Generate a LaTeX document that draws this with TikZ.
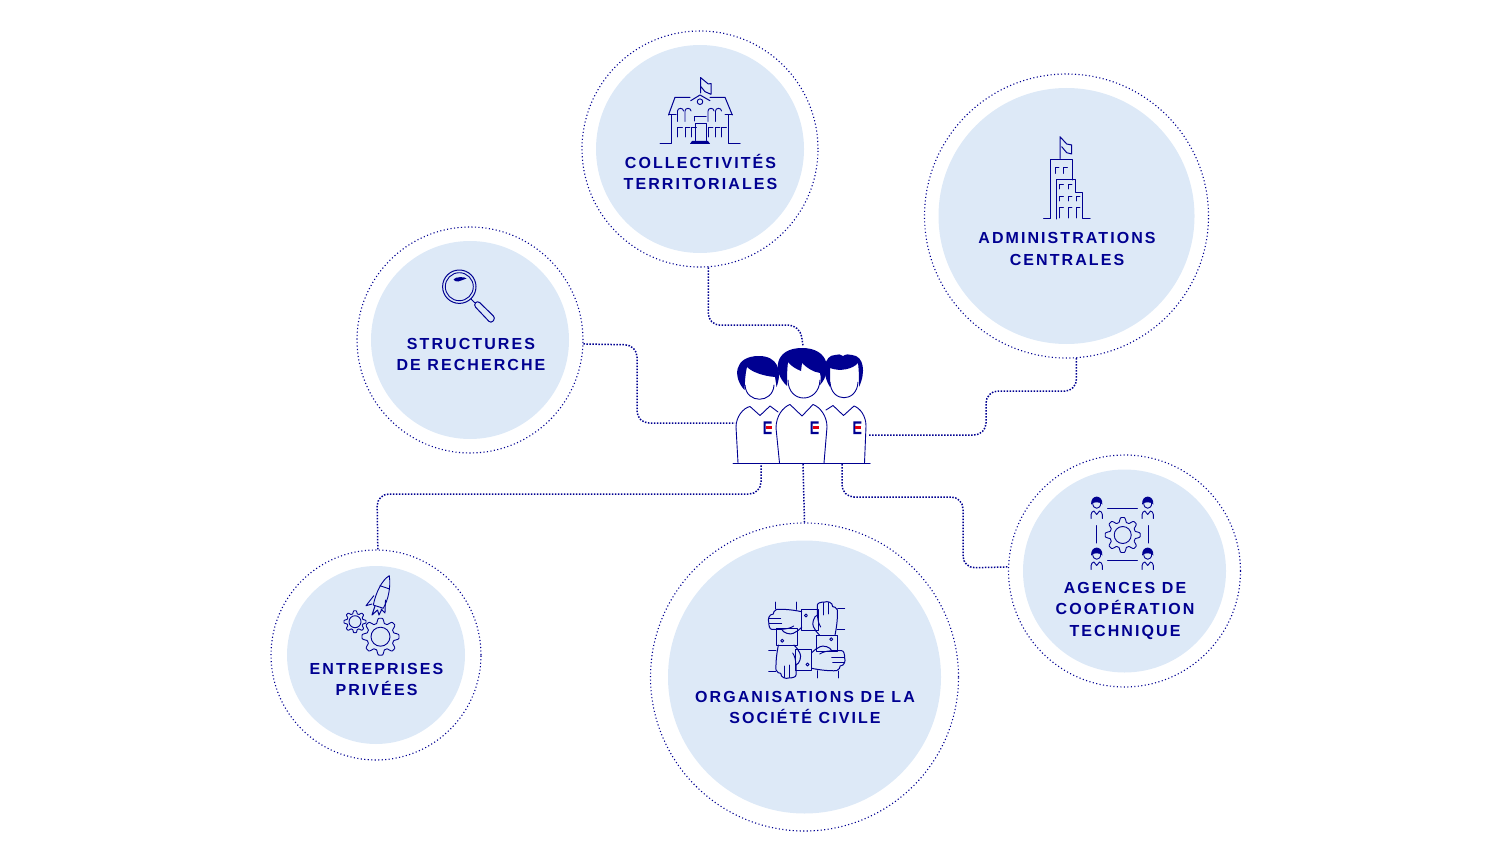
\documentclass[tikz,border=0pt]{standalone}
\usepackage{fontspec}
\usepackage{xcolor}
\usetikzlibrary{positioning,calc}
\newfontfamily\labelfont[LetterSpace=13]{Liberation Sans}
\definecolor{inkblue}{HTML}{000091}
\definecolor{discblue}{HTML}{DDE9F7}
\definecolor{logored}{HTML}{E1000F}
\tikzset{ring/.style={circle, inner sep=0pt, draw=inkblue, line width=1.1pt, dash pattern=on 1.1pt off 2.4pt},
	disc/.style={circle, inner sep=0pt, fill=discblue},
	caption/.style={font=\labelfont\bfseries\fontsize{16}{21.5}\selectfont, text=inkblue, align=center, inner sep=0pt},
	link/.style={draw=inkblue, line width=1.5pt, dash pattern=on 1.5pt off 1.5pt, rounded corners=12pt},
	iconline/.style={draw=inkblue, line width=1pt, line join=round, line cap=round},
	thinline/.style={draw=inkblue, line width=.9pt, line join=round, line cap=round}}
\newcommand{\gearicon}[4]{\begin{scope}[shift={(#1,#2)}]
		\draw[thinline] plot[domain=0:360,samples=145] ({#3*(.87+.13*min(1,max(-1,1.6*cos(8*\x))))*cos(\x)},{#3*(.87+.13*min(1,max(-1,1.6*cos(8*\x))))*sin(\x)}) -- cycle;
		\draw[thinline] (0,0) circle(#4);
	\end{scope}}
\newcommand{\logomark}[2]{\begin{scope}[shift={(#1,#2)}]
		\fill[inkblue] (-4,-6.3) rectangle ++(8,2.2) (-4,4.1) rectangle ++(8,2.2) (-4,-6.3) rectangle ++(2,12.6);
		\fill[logored] (-2,-1.3) rectangle ++(6,2.6);
	\end{scope}}
\newcommand{\tinyperson}[2]{\begin{scope}[shift={(#1,#2)}]
		\fill[inkblue] (-5.6,-3.5) .. controls (-6.5,-14) and (6.5,-14) .. (5.6,-3.5) .. controls (4,-6.5) and (-4,-6.5) .. (-5.6,-3.5) -- cycle;
		\draw[thinline] (-4,-5) .. controls (-4,2) and (4,2) .. (4,-5);
		\draw[thinline] (-5.6,10.5) -- (-5.6,6.5) .. controls (-5.6,4.5) and (-4,3) .. (-2.8,3) -- (0,6.5) -- (2.8,3) .. controls (4,3) and (5.6,4.5) .. (5.6,6.5) -- (5.6,10.5);
	\end{scope}}
\begin{document}
\begin{tikzpicture}[x=1pt,y=-1pt]
	\useasboundingbox (0,0) rectangle (1511,850);
	% discs and their dotted rings
	\node[disc,minimum size=208pt] (coldisc) at (700,149) {};
	\node[ring,minimum size=236pt] (colring) at (coldisc) {};
	\node[disc,minimum size=256pt] (admdisc) at (1066.5,216) {};
	\node[ring,minimum size=284pt] (admring) at (admdisc) {};
	\node[disc,minimum size=198pt] (strdisc) at (470,340) {};
	\node[ring,minimum size=226pt] (strring) at (strdisc) {};
	\node[disc,minimum size=178pt] (entdisc) at (376,655) {};
	\node[ring,minimum size=210pt] (entring) at (entdisc) {};
	\node[disc,minimum size=273pt] (orgdisc) at (804.5,677) {};
	\node[ring,minimum size=308pt] (orgring) at (orgdisc) {};
	\node[disc,minimum size=203pt] (agedisc) at (1124.5,571) {};
	\node[ring,minimum size=232pt] (agering) at (agedisc) {};
	% labels
	\node[caption] (collabel) at (700.5,172) {COLLECTIVITÉS\\TERRITORIALES};
	\node[caption] (admlabel) at (1067,249) {ADMINISTRATIONS\\CENTRALES};
	\node[caption] (strlabel) at (471,354.5) {STRUCTURES\\DE RECHERCHE};
	\node[caption] (entlabel) at (376.5,679.5) {ENTREPRISES\\PRIVÉES};
	\node[caption] (orglabel) at (805,707.5) {ORGANISATIONS DE LA\\SOCIÉTÉ CIVILE};
	\node[caption] (agelabel) at (1125,610.5) {AGENCES DE\\COOPÉRATION\\TECHNIQUE};
	% free ends on the group of people
	\coordinate (hubtop) at (803,346);
	\coordinate (hubleft) at (735,423);
	\coordinate (hubright) at (868,435);
	\coordinate (hubfoota) at (761,464);
	\coordinate (hubfootb) at (803,464);
	\coordinate (hubfootc) at (842,464);
	\draw[link] (colring.-86) --++ (0,58) -- (800,325) -- (hubtop);
	\draw[link] (strring.-2.5) -- (637,345) -- (637,423) -- (hubleft);
	\draw[link] (admring.-86) --++ (0,33) -- (986,391) -- (986,435) -- (hubright);
	\draw[link] (entring.89) -- (377,494) -- (761,494) -- (hubfoota);
	\draw[link] (hubfootb) -- (orgring.90);
	\draw[link] (hubfootc) -- (842,497) -- (963,497) -- (963,568) -- (agering.178.5);
	% people
	\draw[iconline] (733,463.5) -- (870,463.5);
	\draw[thinline] (738,463) -- (736,427) .. controls (736,417) and (743,408) .. (750,406.5) -- (760,415.5) -- (770,406) -- (778,412);
	\draw[thinline] (826,410) -- (833,405.5) -- (843.5,415.5) -- (854,406) .. controls (860,408) and (866,416) .. (866,426) -- (864.5,463);
	\draw[thinline] (779.5,463) -- (776,428) .. controls (776,416) and (783,407) .. (790,404.5) -- (802,416) -- (813,404.5) .. controls (820,407) and (827,416) .. (827,427) -- (824,463);
	\draw[thinline] (745,385) .. controls (746,404) and (773,404) .. (774,385);
	\draw[thinline] (788,380) .. controls (788,404) and (819,404) .. (820,380);
	\draw[thinline] (830,382) .. controls (831,403) and (857,403) .. (858,382);
	\fill[inkblue] (744.5,390) .. controls (733,378) and (733,356) .. (759,356) .. controls (777,356) and (783,370) .. (776.5,387) .. controls (776,383) and (775.5,380) .. (775,377) .. controls (763,376) and (752,372) .. (747,367) .. controls (745,375) and (745,382) .. (744.5,390) -- cycle;
	\fill[inkblue] (787,386) .. controls (772,372) and (774,348) .. (802,348) .. controls (830,348) and (832,372) .. (820,385) .. controls (821,381) and (821,377) .. (820,373) .. controls (813,372) and (807,368) .. (802,363) -- (801,371) .. controls (796,369) and (791,366) .. (788,362) .. controls (787,370) and (787,378) .. (787,386) -- cycle;
	\fill[inkblue] (830,387) .. controls (821,373) and (824,355) .. (835,355) .. controls (838,354) and (841,354) .. (843,356) .. controls (846,354) and (849,354) .. (852,355) .. controls (864,356) and (866,372) .. (859,387) .. controls (859,379) and (859,371) .. (858,363) .. controls (853,369) and (840,372) .. (830,368) -- cycle;
	\logomark{767.7}{427.7}
	\logomark{814.7}{427.7}
	\logomark{857.3}{427.7}
	% town hall
	\draw[iconline] (700.5,93) -- (700.5,77.5) -- (708.3,84) -- (711,83.5) -- (711,94.3) -- (705,91.7) -- (701,86.7);
	\draw[iconline] (668.5,115) -- (675,97.3) -- (690,97.3) (710,97.3) -- (725,97.3) -- (732.3,115);
	\draw[iconline] (690.7,100.7) -- (700,95) -- (710,100.7);
	\draw[thinline] (700,101.7) circle(2.8);
	\draw[iconline] (668.5,115) -- (676,115) (725,115) -- (732.3,115);
	\draw[iconline] (660,143.3) -- (671.7,143.3) -- (671.7,115) (728.3,115) -- (728.3,143.3) -- (740,143.3);
	\foreach \xa in {677.5,685,708,715.5} {
		\draw[thinline] (\xa,121.5) -- (\xa,111) .. controls (\xa,107.5) and (\xa+6,107.5) .. (\xa+6,111);
	}
	\foreach \xa in {677.5,685,691.5,708,715,721.5} {
		\draw[thinline] (\xa,137) -- (\xa,127) --++ (5,0);
	}
	\draw[iconline] (694.5,121) -- (694.5,116.7) -- (706,116.7);
	\draw[iconline] (695,140.5) -- (695,123.5) -- (706.5,123.5) -- (706.5,140.5);
	\fill[inkblue] (690,143.8) -- (692,141) -- (708,141) -- (710,143.8) -- cycle;
	% tower
	\draw[iconline] (1060,158.5) -- (1060,136.7) -- (1066.7,144) -- (1071.7,145) -- (1071.7,154) -- (1066.7,152.7) -- (1061.7,146.7);
	\draw[iconline] (1043.5,219) -- (1050,219) -- (1050,159.3) -- (1072.3,159.3) -- (1072.3,180);
	\draw[iconline] (1056.7,219) -- (1056.7,180) -- (1075.7,180) -- (1075.7,192.3) -- (1082.7,192.3) -- (1082.7,219) -- (1090,219);
	\foreach \xa in {1055,1063.3} {
		\draw[thinline] (\xa,173.5) -- (\xa,167) --++ (4,0);
	}
	\foreach \xa in {1059.5,1068} {
		\draw[thinline] (\xa,189) -- (\xa,184) --++ (4,0);
	}
	\foreach \xa in {1059.5,1068,1076} {
		\draw[thinline] (\xa,201) -- (\xa,196) --++ (4,0);
		\draw[thinline] (\xa,218) -- (\xa,207) --++ (4,0);
	}
	% magnifying glass
	\draw[iconline] (459.3,286.7) circle(16.7);
	\draw[thinline] (459.3,286.7) circle(14);
	\fill[inkblue] (453.5,279.5) .. controls (455,276.5) and (465,276.5) .. (466.5,278.5) .. controls (463,279.5) and (461,281) .. (458,281.5) .. controls (456,281.5) and (454,281) .. (453.5,279.5) -- cycle;
	\draw[iconline] (471,299) -- (474.5,302.5);
	\draw[iconline,rounded corners=3pt] (477.5,300.5) -- (495.5,318) -- (491,323.5) -- (473.5,305) -- cycle;
	% rocket and gears
	\draw[thinline] (389.3,575.7) .. controls (382,580) and (376,592) .. (373.3,605) -- (383.3,608.3) .. controls (388,600) and (391,588) .. (389.3,575.7) -- cycle;
	\draw[thinline] (373.8,595.7) -- (366,605.7) -- (372,604);
	\draw[thinline] (385.5,600) -- (385,613) -- (381,609);
	\draw[thinline] (380,585.7) -- (389.6,589);
	\draw[iconline] (375,606) -- (372,615) -- (377.5,610) -- (379,615) -- (382,609);
	\gearicon{355}{621.7}{11}{6}
	\gearicon{380.5}{636.7}{18.5}{9.5}
	% four hands
	\foreach \turn in {0,90,180,270} {
		\begin{scope}[shift={(806.7,640)},rotate=\turn]
			\draw[iconline] (-5,-30.7) rectangle (11.6,-9.3);
			\draw[thinline] (-.8,-24.5) circle(1.5);
			\draw[iconline] (-5,-28.3) .. controls (-13,-30) and (-22,-31) .. (-30,-30.7) .. controls (-33,-30) and (-33,-27) .. (-33.4,-26) .. controls (-38,-26) and (-39,-20) .. (-38,-18.3) .. controls (-38,-14) and (-37,-10.7) .. (-35,-10.7) -- (-25,-10.7) .. controls (-24,-7) and (-16,-5) .. (-13.4,-6.7) .. controls (-10,-8) and (-8,-10) .. (-5,-12.7);
			\draw[thinline] (-25,-10.7) .. controls (-20,-11) and (-16,-12) .. (-13,-14);
			\draw[thinline] (-37.5,-22) -- (-26,-22) (-37.5,-17) -- (-25,-17);
			\draw[thinline] (-31.7,-38) -- (-31.7,-31) (-10.7,-38) -- (-10.7,-30.7);
		\end{scope}
	}
	% four people around a gear
	\gearicon{1122.7}{535}{17.5}{8.5}
	\tinyperson{1096.7}{508}
	\tinyperson{1147.7}{508}
	\tinyperson{1096.7}{559}
	\tinyperson{1147.7}{559}
	\draw[iconline] (1107.5,508.3) -- (1137.3,508.3) (1107.5,560) -- (1137.3,560) (1096,525.5) -- (1096,543) (1148.5,525.5) -- (1148.5,543);
\end{tikzpicture}
\end{document}
